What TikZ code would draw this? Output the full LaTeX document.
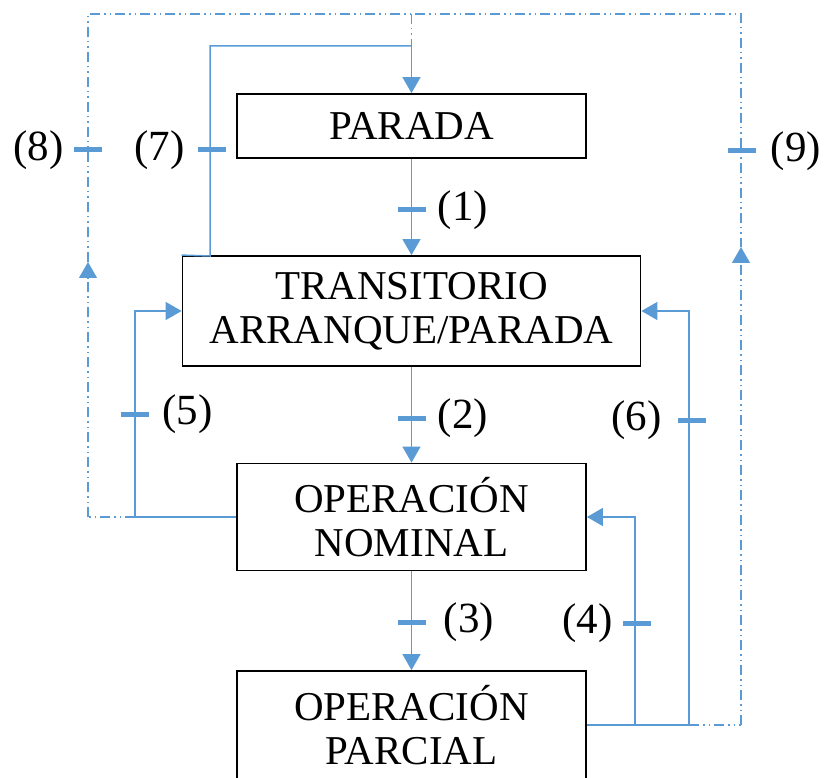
\documentclass[tikz,border=0pt]{standalone}
\usepackage{fontspec}
\setmainfont{Liberation Serif}
\usetikzlibrary{arrows.meta}
\definecolor{linkblue}{HTML}{5B9BD5}
\tikzset{
  stbox/.style={draw=black, line width=1.8pt, fill=white, minimum width=349pt,
    align=center, font=\fontsize{41}{44}\selectfont, inner sep=0pt},
  flow/.style={draw=linkblue, line width=1.5pt},
  tip/.style={-{Triangle[width=18pt,length=16pt]}},
  ddline/.style={draw=linkblue, line width=1.3pt,
    dash pattern=on 10pt off 4pt on 1.5pt off 4pt on 1.5pt off 4pt},
  tickmark/.style={fill=linkblue, minimum width=28pt, minimum height=5pt, inner sep=0pt},
  lbl/.style={font=\fontsize{43}{46}\selectfont, inner sep=0pt},
}
\begin{document}
\begin{tikzpicture}[x=1pt, y=-1pt]
\clip (0,0) rectangle (825,778);

% states
\node[stbox, minimum height=64pt] (parada) at (411.5,126) {PARADA};
\node[stbox, minimum width=458pt, minimum height=110pt] (trans) at (411.5,311)
  {TRANSITORIO\\ARRANQUE/PARADA};
\node[stbox, minimum height=107pt] (nominal) at (411.5,517) {OPERACIÓN\\NOMINAL};
\node[stbox, minimum height=108pt] (parcial) at (411.5,725) {OPERACIÓN\\PARCIAL};

% bend points
\coordinate (jt) at (411.5,14);
\coordinate (p7a) at (210,256);
\coordinate (p7b) at (210,46);
\coordinate (p7c) at (411.5,46);
\coordinate (p5a) at (135,517);
\coordinate (p5b) at (135,311);
\coordinate (p8a) at (88,517);
\coordinate (p8b) at (88,262);
\coordinate (p8c) at (88,14);
\coordinate (p4a) at (635,725);
\coordinate (p4b) at (635,517);
\coordinate (p6a) at (689,725);
\coordinate (p6b) at (689,311);
\coordinate (p9a) at (741,725);
\coordinate (p9b) at (741,247);
\coordinate (p9c) at (741,14);

% main sequence
\draw[flow, tip] (parada.south) -- (trans.north);
\draw[flow, tip] (trans.south) -- (nominal.north);
\draw[flow, tip] (nominal.south) -- (parcial.north);

% (7) transient back to stop
\draw[flow] (trans.north west) -- (p7a) -- (p7b) -- (p7c);
\draw[flow, tip] (p7c) -- (parada.north);

% (5) nominal back to transient
\draw[flow, tip] (nominal.west) -- (p5a) -- (p5b) -- (trans.west);

% (4) and (6) from partial operation
\draw[flow] (parcial.east) -- (p4a) -- (p6a);
\draw[flow, tip] (p4a) -- (p4b) -- (nominal.east);
\draw[flow, tip] (p6a) -- (p6b) -- (trans.east);

% (8) and (9) dash-dot returns to stop
\draw[ddline] (p5a) -- (p8a);
\draw[ddline, tip] (p8a) -- (p8b);
\draw[ddline] (p6a) -- (p9a);
\draw[ddline, tip] (p9a) -- (p9b);
\draw[ddline] (p8b) -- (p8c) -- (p9c) -- (p9b);
\draw[ddline] (jt) -- (p7c);

% transition marks and labels
\node[tickmark] (k1) at (411.5,210) {};
\node[tickmark] (k2) at (411.5,418) {};
\node[tickmark] (k3) at (411.5,622) {};
\node[tickmark] (k4) at (637,623) {};
\node[tickmark] (k5) at (135,414) {};
\node[tickmark] (k6) at (692,420) {};
\node[tickmark] (k7) at (212,150) {};
\node[tickmark] (k8) at (88,150) {};
\node[tickmark] (k9) at (741.5,151) {};

\node[lbl, anchor=west] (l1) at ([xshift=12pt]k1.east) {(1)};
\node[lbl, anchor=west] (l2) at ([xshift=12pt]k2.east) {(2)};
\node[lbl, anchor=west] (l3) at ([xshift=18pt]k3.east) {(3)};
\node[lbl, anchor=east] (l4) at ([xshift=-10pt]k4.west) {(4)};
\node[lbl, anchor=west] (l5) at ([xshift=13pt]k5.east) {(5)};
\node[lbl, anchor=east] (l6) at ([xshift=-16pt]k6.west) {(6)};
\node[lbl, anchor=east] (l7) at ([xshift=-13pt]k7.west) {(7)};
\node[lbl, anchor=east] (l8) at ([xshift=-10pt]k8.west) {(8)};
\node[lbl, anchor=west] (l9) at ([xshift=15pt]k9.east) {(9)};
\end{tikzpicture}
\end{document}
